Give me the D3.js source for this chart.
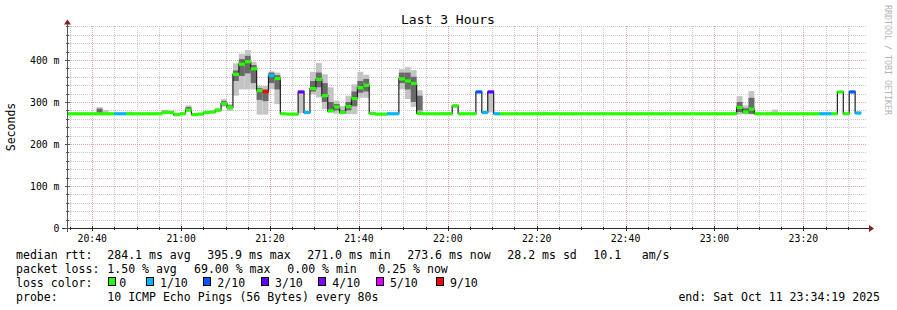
<!DOCTYPE html>
<html>
<head>
<meta charset="utf-8">
<script src="https://cdn.jsdelivr.net/npm/d3@7"></script>
<style>
  body { margin: 0; background: #fff; }
  svg text { font-family: "DejaVu Sans Mono", monospace; white-space: pre; }
</style>
</head>
<body>
<script>
// time range of the graph (UTC so the local timezone does not matter)
var startTime = Date.UTC(2025, 9, 11, 20, 34, 19);
var endTime = Date.UTC(2025, 9, 11, 23, 34, 19);
var stepSec = 80;

// median rtt per 80s step, in ms
var median = [
  272, 272, 272, 272, 272, 272, 272, 272, 272, 272,
  272, 272, 272, 272, 272, 272, 275, 275, 270, 272,
  281, 270, 271, 275, 276, 281, 296, 287, 366, 390,
  395.9, 379, 327, 324.5, 363, 356, 272, 271, 271, 324,
  275, 332, 354, 315, 279, 288, 275, 289, 308, 334,
  340, 273, 271, 271, 272, 272, 355, 350, 344, 273,
  272, 272, 272, 272, 272, 291, 272, 272, 272, 324,
  275, 324, 272, 272, 272, 272, 272, 272, 272, 272,
  272, 272, 272, 272, 272, 272, 272, 272, 272, 272,
  272, 272, 272, 272, 272, 272, 272, 272, 272, 272,
  272, 272, 272, 272, 272, 272, 272, 272, 272, 272,
  272, 272, 272, 287, 276, 283, 272, 272, 272, 272,
  272, 272, 272, 272, 272, 272, 272, 272, 272, 272,
  324, 272, 324, 273.6
];

// lost pings per step (out of 10)
var loss = [
  0, 0, 0, 0, 0, 0, 0, 0, 1, 1,
  0, 0, 0, 0, 0, 0, 0, 0, 0, 0,
  0, 0, 0, 0, 0, 0, 0, 0, 0, 0,
  0, 0, 0, 9, 1, 0, 0, 0, 0, 3,
  1, 0, 0, 0, 0, 0, 0, 0, 0, 0,
  0, 0, 0, 0, 1, 1, 0, 0, 0, 0,
  0, 0, 0, 0, 0, 0, 0, 0, 0, 2,
  1, 3, 1, 0, 0, 0, 0, 0, 0, 0,
  0, 0, 0, 0, 0, 0, 0, 0, 0, 0,
  0, 0, 0, 0, 0, 0, 0, 0, 0, 0,
  0, 0, 0, 0, 0, 0, 0, 0, 0, 0,
  0, 0, 0, 0, 0, 0, 0, 0, 0, 0,
  0, 0, 0, 0, 0, 0, 0, 1, 1, 0,
  0, 0, 2, 1
];

// smoke (spread of the pings) for the steps that have any
var smokeStep = [5, 6, 10, 16, 17, 20, 25, 26, 27, 28, 29, 30, 31, 32, 33, 34, 35, 39, 41, 42, 43, 44, 45, 46, 47, 48, 49, 50, 56, 57, 58, 59, 63, 64, 65, 71, 79, 80, 112, 113, 114, 115, 116, 118, 119, 133];
var smokeLo   = [272, 272, 272, 272, 272, 276, 276, 289, 279, 315, 330, 330, 330, 270, 270, 330, 295, 273, 319, 311, 283, 275, 272, 271, 271, 271, 310, 310, 330, 307, 288, 273, 272, 272, 285, 275, 272, 272, 272, 270, 272, 270, 272, 272, 272, 272];
var smokeHi   = [288, 281, 277, 281, 280, 292, 284, 307, 295, 392, 415, 424, 395, 338, 338, 373, 370, 324, 372, 393, 366, 335, 303, 290, 315, 342, 372, 365, 378, 383, 376, 328, 276, 276, 295, 324, 277, 277, 277, 314, 292, 326, 277, 277, 282, 277];
var coreLo    = [274, null, null, 274, 274, 279, 278, 292, 283, 350, 362, 368, 345, 305, 302, 345, 330, null, 325, 335, 300, 276, 280, 273, 280, 290, 322, 325, 345, 330, 300, 280, null, null, null, null, null, null, null, 276, 273, 272, null, null, null, null];
var coreHi    = [284, null, null, 279, 278, 288, 282, 302, 292, 375, 402, 410, 388, 333, 330, 370, 364, null, 350, 370, 345, 300, 295, 280, 300, 325, 350, 355, 370, 370, 360, 315, null, null, null, null, null, null, null, 300, 285, 310, null, null, null, null];

// loss colour legend
var lossLevels = [0, 1, 2, 3, 4, 5, 9];
var lossLabels = ["0", "1/10", "2/10", "3/10", "4/10", "5/10", "9/10"];
var lossColors = ["#26ff00", "#00b8ff", "#0059ff", "#5e00ff", "#7e00ff", "#dd00ff", "#ff0000"];

var yTicks = [0, 100, 200, 300, 400];

var rttLegend = ["median rtt:", "284.1 ms avg", "395.9 ms max", "271.0 ms min", "273.6 ms now", "28.2 ms sd", "10.1", "am/s"];
var lossLegend = ["packet loss:", "1.50 % avg", "69.00 % max", "0.00 % min", "0.25 % now"];
var probeLegend = ["probe:", "10 ICMP Echo Pings (56 Bytes) every 80s"];
var endLabel = "end: Sat Oct 11 23:34:19 2025";

var width = 897;
var height = 310;
var plotL = 67, plotR = 867, plotB = 228, plotT = 26.4;

var x = d3.scaleUtc()
          .domain([new Date(startTime), new Date(endTime)])
          .range([plotL, plotR]);

var y = d3.scaleLinear()
          .domain([0, 480])
          .range([plotB, plotT]);

function stepTime(i) { return new Date(startTime + i * stepSec * 1000); }

function lossColor(l) {
  for (var k = 0; k < lossLevels.length; k++) {
    if (l <= lossLevels[k]) return lossColors[k];
  }
  return lossColors[lossColors.length - 1];
}

var svg = d3.select("body")
            .append("svg")
            .attr("width", width)
            .attr("height", height);

svg.append("rect")
   .attr("width", width)
   .attr("height", height)
   .attr("fill", "#fff");

// grid
var grid = svg.append("g").attr("shape-rendering", "crispEdges");

grid.selectAll(".ymin")
    .data(y.ticks(24).filter(function(d){ return d > 0 && d % 100 != 0; }))
    .enter()
      .append("line")
      .attr("x1", plotL).attr("x2", plotR)
      .attr("y1", function(d){ return Math.round(y(d)) + 0.5; })
      .attr("y2", function(d){ return Math.round(y(d)) + 0.5; })
      .attr("stroke", "#c8c8c8")
      .attr("stroke-dasharray", "1,1");

grid.selectAll(".xmin")
    .data(x.ticks(d3.utcMinute.every(5)).filter(function(d){ return d.getUTCMinutes() % 20 != 0; }))
    .enter()
      .append("line")
      .attr("x1", function(d){ return Math.round(x(d)) + 0.5; })
      .attr("x2", function(d){ return Math.round(x(d)) + 0.5; })
      .attr("y1", plotT).attr("y2", plotB)
      .attr("stroke", "#c8c8c8")
      .attr("stroke-dasharray", "1,1");

grid.selectAll(".ymaj")
    .data(yTicks.filter(function(d){ return d > 0; }))
    .enter()
      .append("line")
      .attr("x1", plotL).attr("x2", plotR)
      .attr("y1", function(d){ return Math.round(y(d)) + 0.5; })
      .attr("y2", function(d){ return Math.round(y(d)) + 0.5; })
      .attr("stroke", "#eba6a6")
      .attr("stroke-dasharray", "1,1");

grid.selectAll(".xmaj")
    .data(x.ticks(d3.utcMinute.every(20)))
    .enter()
      .append("line")
      .attr("x1", function(d){ return Math.round(x(d)) + 0.5; })
      .attr("x2", function(d){ return Math.round(x(d)) + 0.5; })
      .attr("y1", plotT).attr("y2", plotB)
      .attr("stroke", "#eba6a6")
      .attr("stroke-dasharray", "1,1");

// smoke
var smoke = smokeStep.map(function(s, k){
  return { i: s, lo: smokeLo[k], hi: smokeHi[k], clo: coreLo[k], chi: coreHi[k] };
});

svg.append("g").selectAll("rect")
   .data(smoke)
   .enter()
     .append("rect")
     .attr("x", function(d){ return x(stepTime(d.i)); })
     .attr("width", function(d){ return x(stepTime(d.i + 1)) - x(stepTime(d.i)); })
     .attr("y", function(d){ return y(d.hi); })
     .attr("height", function(d){ return y(d.lo) - y(d.hi); })
     .attr("fill", "#c4c4c4");

svg.append("g").selectAll("rect")
   .data(smoke.filter(function(d){ return d.clo != null; }))
   .enter()
     .append("rect")
     .attr("x", function(d){ return x(stepTime(d.i)); })
     .attr("width", function(d){ return x(stepTime(d.i + 1)) - x(stepTime(d.i)); })
     .attr("y", function(d){ return y(d.chi); })
     .attr("height", function(d){ return y(d.clo) - y(d.chi); })
     .attr("fill", "#6a6a6a");

// median line
var pts = median.map(function(m, i){ return [x(stepTime(i)), y(m)]; });
pts.push([x(stepTime(median.length)), y(median[median.length - 1])]);

svg.append("path")
   .attr("d", d3.line().curve(d3.curveStepAfter)(pts))
   .attr("fill", "none")
   .attr("stroke", "#202020")
   .attr("stroke-width", 1.2);

// loss coloured median bands
svg.append("g").selectAll("rect")
   .data(median)
   .enter()
     .append("rect")
     .attr("x", function(d, i){ return x(stepTime(i)); })
     .attr("width", function(d, i){ return x(stepTime(i + 1)) - x(stepTime(i)) + 0.3; })
     .attr("y", function(d){ return y(d) - 1.6; })
     .attr("height", 3.2)
     .attr("fill", function(d, i){ return lossColor(loss[i]); });

// axes
var axisColor = "#2a2a2a";
var ax = svg.append("g").attr("shape-rendering", "crispEdges");
ax.append("line")
  .attr("x1", plotL - 5).attr("x2", plotR + 3)
  .attr("y1", plotB + 0.5).attr("y2", plotB + 0.5)
  .attr("stroke", axisColor);
ax.append("line")
  .attr("x1", plotL + 0.5).attr("x2", plotL + 0.5)
  .attr("y1", plotB + 4).attr("y2", plotT - 3)
  .attr("stroke", "#555");

ax.selectAll(".xt")
  .data(x.ticks(d3.utcMinute.every(5)))
  .enter()
    .append("line")
    .attr("x1", function(d){ return Math.round(x(d)) + 0.5; })
    .attr("x2", function(d){ return Math.round(x(d)) + 0.5; })
    .attr("y1", function(d){ return d.getUTCMinutes() % 20 == 0 ? plotB - 2 : plotB - 1; })
    .attr("y2", function(d){ return d.getUTCMinutes() % 20 == 0 ? plotB + 3 : plotB + 2; })
    .attr("stroke", axisColor);

ax.selectAll(".yt")
  .data(y.ticks(24))
  .enter()
    .append("line")
    .attr("y1", function(d){ return Math.round(y(d)) + 0.5; })
    .attr("y2", function(d){ return Math.round(y(d)) + 0.5; })
    .attr("x1", function(d){ return d % 100 == 0 ? plotL - 2 : plotL - 1; })
    .attr("x2", function(d){ return d % 100 == 0 ? plotL + 3 : plotL + 2; })
    .attr("stroke", "#555");

// arrows
svg.append("path")
   .attr("d", d3.line()([[plotR + 2, plotB - 3], [plotR + 7, plotB + 0.5], [plotR + 2, plotB + 4]]))
   .attr("fill", "#8c1c1c");
svg.append("path")
   .attr("d", d3.line()([[plotL - 3, plotT - 2], [plotL + 0.5, plotT - 7], [plotL + 4, plotT - 2]]))
   .attr("fill", "#8c1c1c");

// tick labels
svg.append("g").selectAll("text")
   .data(x.ticks(d3.utcMinute.every(20)))
   .enter()
     .append("text")
     .attr("x", function(d){ return x(d); })
     .attr("y", 241.5)
     .attr("text-anchor", "middle")
     .attr("font-size", "9.8px")
     .text(d3.utcFormat("%H:%M"));

svg.append("g").selectAll("text")
   .data(yTicks)
   .enter()
     .append("text")
     .attr("x", 59.5)
     .attr("y", function(d){ return y(d) + 3.5; })
     .attr("text-anchor", "end")
     .attr("font-size", "9.8px")
     .text(function(d){ return d == 0 ? "0" : (d + " m"); });

// titles
svg.append("text")
   .attr("x", 448).attr("y", 23.5)
   .attr("text-anchor", "middle")
   .attr("font-size", "13px")
   .text("Last 3 Hours");

svg.append("text")
   .attr("transform", "translate(14.5,127) rotate(-90)")
   .attr("text-anchor", "middle")
   .attr("font-size", "11.5px")
   .text("Seconds");

svg.append("text")
   .attr("transform", "translate(884.5,5) rotate(90)")
   .attr("font-size", "8.3px")
   .attr("fill", "#b4b4b4")
   .text("RRDTOOL / TOBI OETIKER");

// legend
var fs = "11.56px";
var base = 258.5, lh = 14;
var rttX = [16, 107.3, 207.3, 307.3, 407.3, 507.3, 593.3, 641.7];
var lossX = [16, 107.3, 194, 287.3, 378.3];
var probeX = [16, 107.3];
var boxX = [108.3, 145.7, 203.3, 260.7, 318.3, 376, 436];
var boxLabelX = [119.3, 160, 217.3, 275, 332.3, 390, 450];

var legend = svg.append("g").attr("font-size", fs);

legend.selectAll(".rtt")
      .data(rttLegend)
      .enter()
        .append("text")
        .attr("x", function(d, i){ return rttX[i]; })
        .attr("y", base)
        .text(function(d){ return d; });

legend.selectAll(".loss")
      .data(lossLegend)
      .enter()
        .append("text")
        .attr("x", function(d, i){ return lossX[i]; })
        .attr("y", base + lh)
        .text(function(d){ return d; });

legend.append("text")
      .attr("x", 16).attr("y", base + 2 * lh)
      .text("loss color:");

legend.selectAll(".lbox")
      .data(lossColors)
      .enter()
        .append("rect")
        .attr("x", function(d, i){ return Math.round(boxX[i]) + 0.5; })
        .attr("y", 277.5)
        .attr("width", 7)
        .attr("height", 8)
        .attr("fill", function(d){ return d; })
        .attr("stroke", "#000")
        .attr("shape-rendering", "crispEdges");

legend.selectAll(".llab")
      .data(lossLabels)
      .enter()
        .append("text")
        .attr("x", function(d, i){ return boxLabelX[i]; })
        .attr("y", base + 2 * lh)
        .text(function(d){ return d; });

legend.selectAll(".probe")
      .data(probeLegend)
      .enter()
        .append("text")
        .attr("x", function(d, i){ return probeX[i]; })
        .attr("y", base + 3 * lh)
        .text(function(d){ return d; });

legend.append("text")
      .attr("x", 880).attr("y", base + 3 * lh)
      .attr("text-anchor", "end")
      .text(endLabel);
</script>
</body>
</html>
